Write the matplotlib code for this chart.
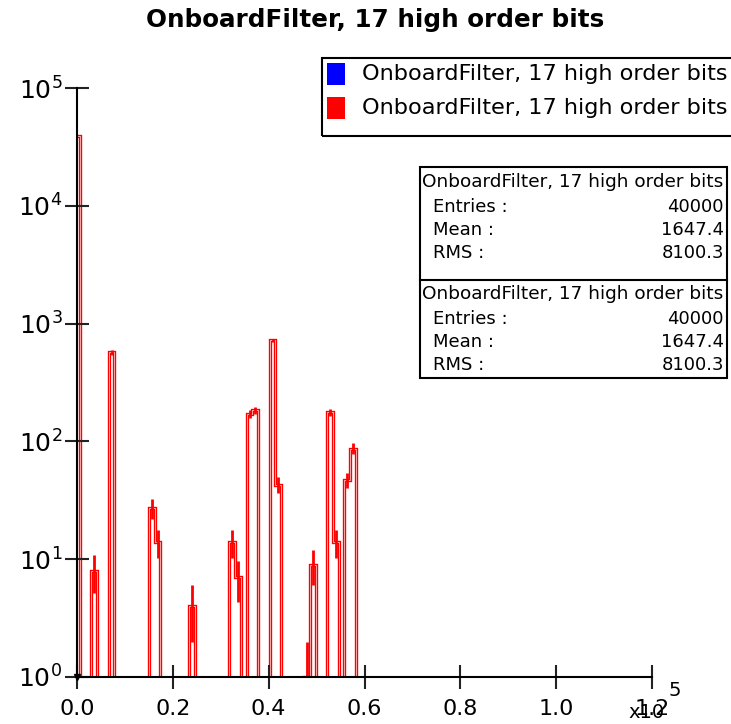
import numpy as np
import matplotlib
matplotlib.use('Agg')
import matplotlib.pyplot as plt
from matplotlib.patches import Rectangle
from matplotlib.ticker import NullLocator

# histogram data (bin width 1200, only non-empty bins listed)
title = 'OnboardFilter, 17 high order bits'
bin_width = 1200
x_max = 120000
bin_centers = [0, 3600, 7200, 15600, 16800, 24000, 32400, 33600, 36000, 37200,
               40800, 42000, 48000, 49200, 52800, 54000, 56400, 57600]
counts = [39000, 8, 570, 27, 14, 4, 14, 7, 172, 183,
          720, 43, 1, 9, 176, 14, 47, 87]
x_tick_vals = [0, 20000, 40000, 60000, 80000, 100000, 120000]
x_tick_labels = ['0.0', '0.2', '0.4', '0.6', '0.8', '1.0', '1.2']
y_tick_vals = [1, 10, 100, 1000, 10000, 100000]
stat_names = ['Entries :', 'Mean :', 'RMS :']
stat_values = ['40000', '1647.4', '8100.3']

W, H = 731, 724


def fx(px):
    return px / W


def fy(py):
    return 1 - py / H


edges = np.arange(-bin_width / 2, x_max + bin_width, bin_width)
full = np.zeros(len(edges) - 1)
idx = np.round(np.array(bin_centers) / bin_width).astype(int)
full[idx] = counts

fig = plt.figure(figsize=(W / 100, H / 100), dpi=100)
ax = fig.add_axes([fx(77), fy(677), fx(652) - fx(77), fy(88) - fy(677)])
ax.set_yscale('log')

# blue histogram is drawn first and hidden under the red one
drawn = np.where(full > 0, full, 0.1)
ax.stairs(drawn, edges, baseline=0.1, color='blue', lw=2.0)
ax.stairs(drawn, edges, baseline=0.1, color='red', lw=2.4)
ax.stairs(drawn, edges, baseline=0.1, color='#ffc0c0', lw=0.6)

c = np.array(bin_centers, dtype=float)
n = np.array(counts, dtype=float)
err = np.sqrt(n)
ax.vlines(c, np.maximum(n - err, 0.1), n + err, color='red', lw=2.0)

ax.set_xlim(0, x_max)
ax.set_ylim(1, 1e5)
ax.set_xticks(x_tick_vals)
ax.set_xticklabels(x_tick_labels)
ax.set_yticks(y_tick_vals)
ax.set_yticklabels([r'$\mathregular{10^{%d}}$' % int(np.log10(v)) for v in y_tick_vals])
ax.yaxis.set_minor_locator(NullLocator())
ax.xaxis.set_minor_locator(NullLocator())
ax.tick_params(direction='inout', length=17, width=1.5, color='#222222')
ax.tick_params(axis='y', pad=2, labelsize=18)
ax.tick_params(axis='x', pad=7, labelsize=16)
for s in ['top', 'right']:
    ax.spines[s].set_visible(False)
for s in ['left', 'bottom']:
    ax.spines[s].set_linewidth(1.5)
    ax.spines[s].set_zorder(5)
ax.plot(0, 0, 'v', transform=ax.transAxes, color='black', ms=5, clip_on=False, zorder=6)

fig.text(fx(375), fy(20), title, ha='center', va='center', fontsize=17.7, weight='bold')

# legend box (runs off the right edge)
fig.patches.append(Rectangle((fx(322), fy(136)), fx(420), (136 - 58) / H, fill=False,
                             ec='black', lw=1.5, transform=fig.transFigure))
for yc, col in [(74, 'blue'), (108, 'red')]:
    fig.patches.append(Rectangle((fx(327), fy(yc + 11)), fx(18), 22 / H, fc=col,
                                 ec='none', transform=fig.transFigure))
    fig.text(fx(362), fy(yc), title, ha='left', va='center', fontsize=16.1)

# statistics box
fig.patches.append(Rectangle((fx(420), fy(378)), fx(727 - 420), (378 - 167) / H, fill=False,
                             ec='black', lw=1.5, transform=fig.transFigure))
fig.add_artist(plt.Line2D([fx(420), fx(727)], [fy(280), fy(280)], color='black', lw=1.5))
for top in [182, 294]:
    fig.text(fx(422), fy(top), title, ha='left', va='center', fontsize=13.3)
    for i, (name, val) in enumerate(zip(stat_names, stat_values)):
        yy = top + 25 + 23 * i
        fig.text(fx(433), fy(yy), name, ha='left', va='center', fontsize=13)
        fig.text(fx(724), fy(yy), val, ha='right', va='center', fontsize=13)

fig.text(fx(628), fy(713), 'x10', ha='left', va='center', fontsize=14)
fig.text(fx(668), fy(690), '5', ha='left', va='center', fontsize=14)

fig.savefig('out.png', dpi=100)
